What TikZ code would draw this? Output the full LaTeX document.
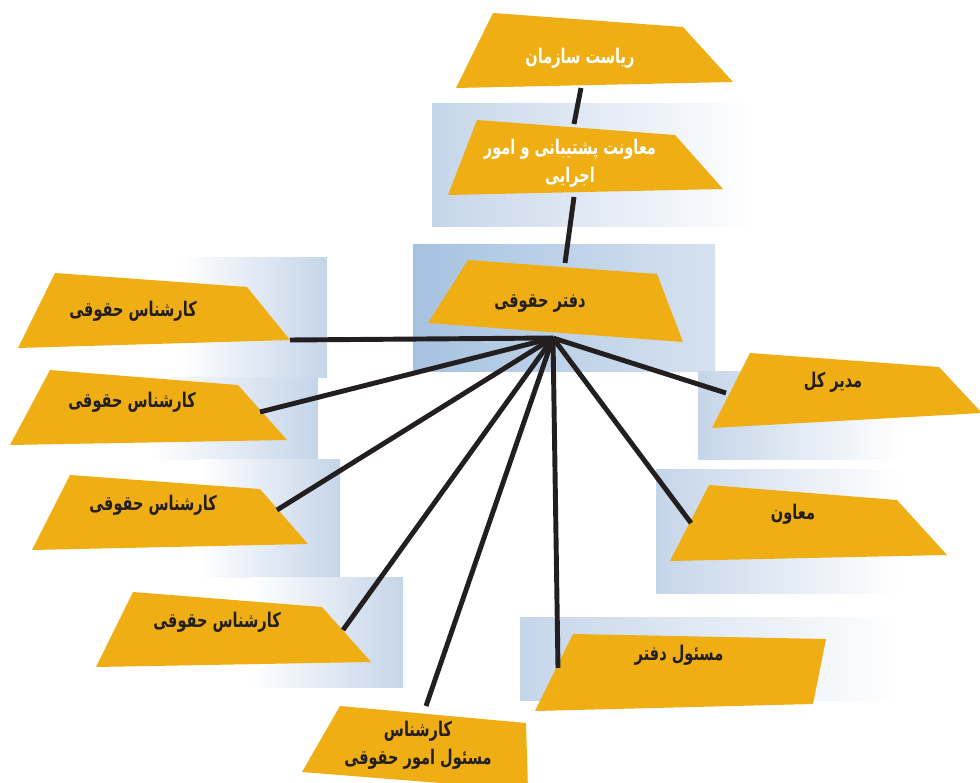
\documentclass[tikz,border=0pt]{standalone}
\usepackage{fontspec}
\newfontfamily\farsi[Script=Arabic, FakeStretch=0.72]{DejaVu Sans}
\TeXXeTstate=1

\definecolor{orgorange}{RGB}{239,174,20}
\definecolor{orgink}{RGB}{35,31,32}
\definecolor{orgblue}{RGB}{166,194,224}
\definecolor{orgpale}{RGB}{197,213,233}

\tikzset{
  post/.style={fill=orgorange},
  link/.style={draw=orgink, line width=2.8pt},
  caption/.style={font=\farsi\bfseries\fontsize{11.5}{16}\selectfont, align=center, text=orgink},
  headcaption/.style={caption, text=white}
}

\begin{document}
\begin{tikzpicture}[x=0.02cm,y=-0.02cm]
\useasboundingbox (0,0) rectangle (980,783);
% pale panels behind the chart
\shade[left color=orgpale, right color=white] (432,104) rectangle (755,227);
\shade[left color=orgblue, right color=orgpale!70] (413,245) rectangle (715,372);
\shade[left color=white, right color=orgpale] (180,258) rectangle (327,378);
\shade[left color=white, right color=orgpale] (150,378) rectangle (318,460);
\shade[left color=white, right color=orgpale] (200,460) rectangle (340,577);
\shade[left color=white, right color=orgpale] (250,577) rectangle (403,687);
\shade[left color=orgpale, right color=white] (698,372) rectangle (900,460);
\shade[left color=orgpale, right color=white] (656,470) rectangle (900,593);
\shade[left color=orgpale, right color=white] (520,617) rectangle (900,700);

% upper chain
\fill[post] (493,13) -- (683,27) -- (733,82) -- (456,88) -- cycle;
\node[headcaption] (head) at (580,58) {\beginR ریاست سازمان\endR};
\fill[post] (477,120) -- (675,135) -- (723,189) -- (448,195) -- cycle;
\node[headcaption] (deputy) at (570,163) {\beginR معاونت پشتیبانی و امور\endR\\\beginR اجرایی\endR};
\fill[post] (468,260) -- (657,274) -- (683,342) -- (428,323) -- cycle;
\node[caption] (office) at (540,304) {\beginR دفتر حقوقی\endR};

% left side
\fill[post] (55,273) -- (247,287) -- (290,340) -- (18,348) -- cycle;
\node[caption] (expertA) at (133,311) {\beginR کارشناس حقوقی\endR};
\fill[post] (50,370) -- (238,385) -- (287,440) -- (10,445) -- cycle;
\node[caption] (expertB) at (132,402) {\beginR کارشناس حقوقی\endR};
\fill[post] (70,475) -- (260,489) -- (308,544) -- (32,550) -- cycle;
\node[caption] (expertC) at (153,505) {\beginR کارشناس حقوقی\endR};
\fill[post] (133,592) -- (322,607) -- (371,662) -- (96,667) -- cycle;
\node[caption] (expertD) at (217,622) {\beginR کارشناس حقوقی\endR};

% bottom and right side
\fill[post] (340,706) -- (526,723) -- (528,790) -- (302,772) -- cycle;
\node[caption] (senior) at (418,745) {\beginR کارشناس\endR\\\beginR مسئول امور حقوقی\endR};
\fill[post] (573,634) -- (826,639) -- (813,704) -- (535,711) -- cycle;
\node[caption] (clerk) at (679,655) {\beginR مسئول دفتر\endR};
\fill[post] (709,485) -- (897,500) -- (947,555) -- (670,561) -- cycle;
\node[caption] (assistant) at (793,514) {\beginR معاون\endR};
\fill[post] (750,353) -- (939,367) -- (982,413) -- (712,428) -- cycle;
\node[caption] (director) at (833,382) {\beginR مدیر کل\endR};

% connector ends
\coordinate (head-foot) at (581,88);
\coordinate (deputy-top) at (574,124);
\coordinate (deputy-foot) at (574,197);
\coordinate (office-top) at (565,263);
\coordinate (hub) at (553,338);
\coordinate (expertA-end) at (290,340);
\coordinate (expertB-end) at (260,412);
\coordinate (expertC-end) at (277,510);
\coordinate (expertD-end) at (343,630);
\coordinate (senior-end) at (426,706);
\coordinate (clerk-end) at (558,668);
\coordinate (assistant-end) at (691,523);
\coordinate (director-end) at (726,393);

\draw[link] (head-foot) -- (deputy-top);
\draw[link] (deputy-foot) -- (office-top);
\foreach \t in {expertA,expertB,expertC,expertD,senior,clerk,assistant,director}
  \draw[link] (hub) -- (\t-end);
\end{tikzpicture}
\end{document}
